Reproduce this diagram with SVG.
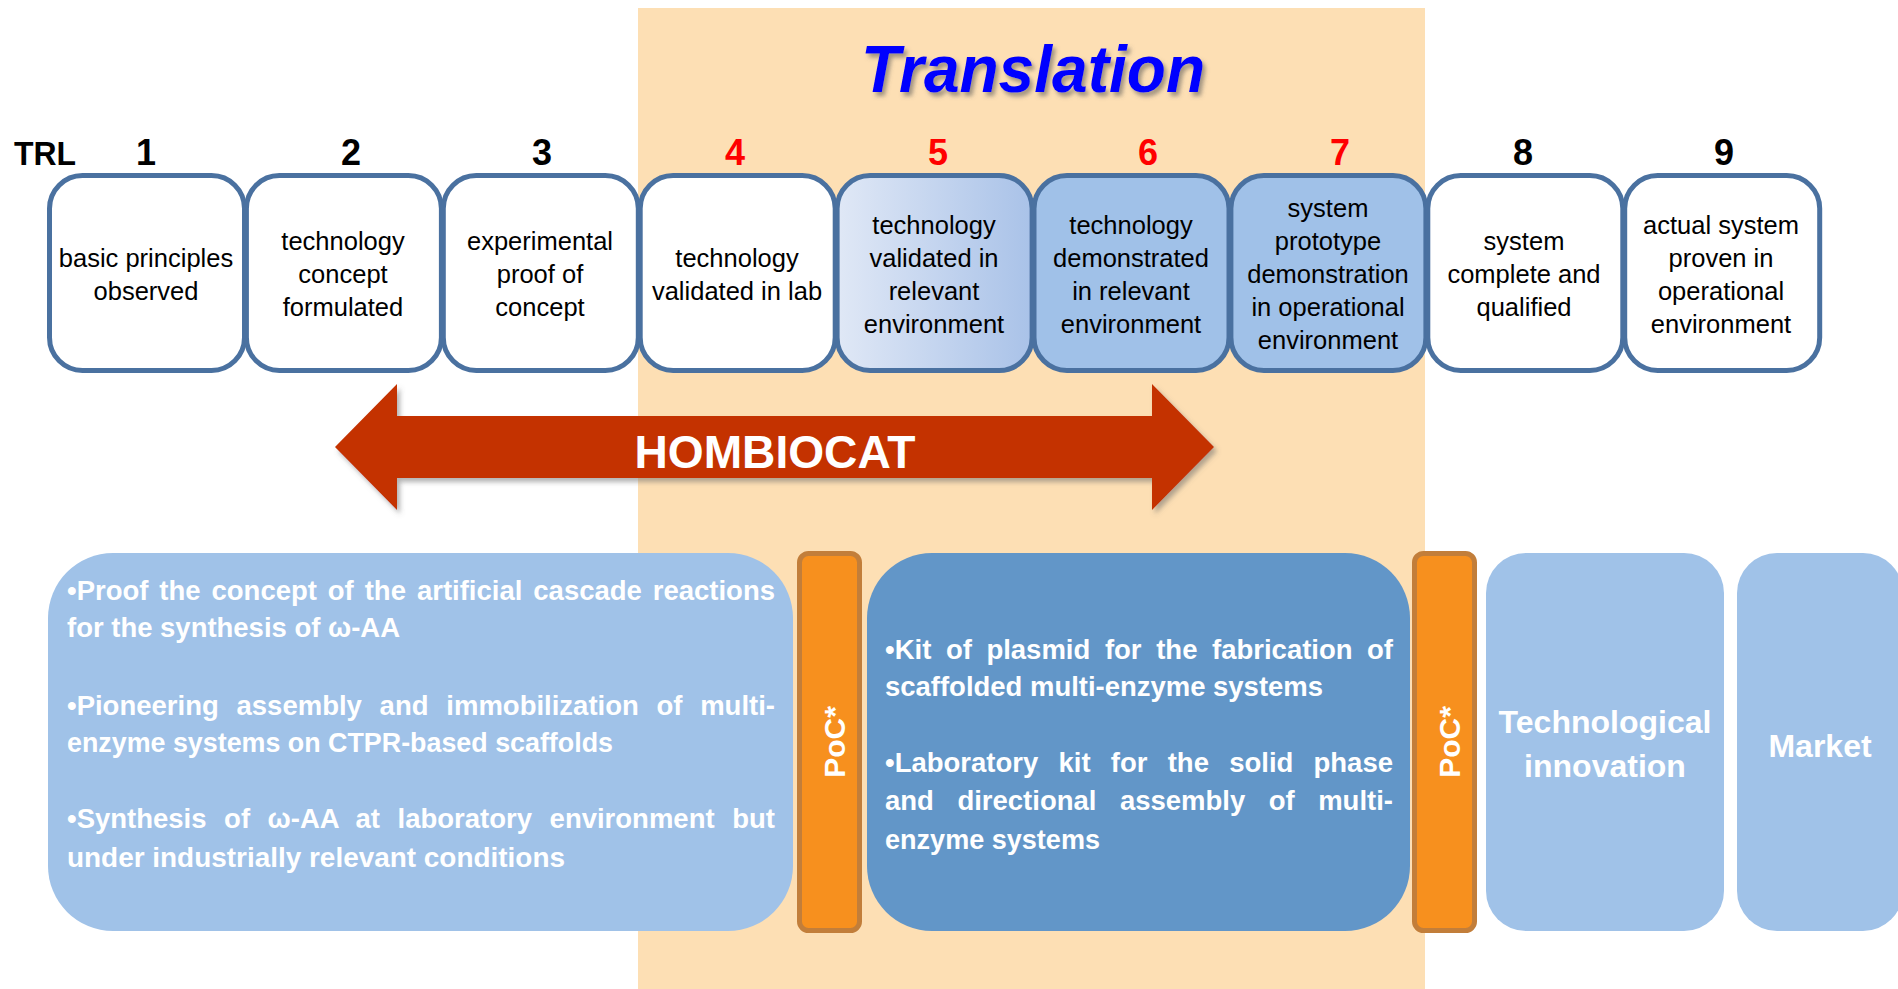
<svg xmlns="http://www.w3.org/2000/svg" width="1898" height="989" viewBox="0 0 1898 989">
<defs>
<linearGradient id="g5" x1="0" y1="0" x2="1" y2="0">
<stop offset="0" stop-color="#e0e8f6"/>
<stop offset="1" stop-color="#a9c2e8"/>
</linearGradient>
<filter id="tshadow" x="-10%" y="-20%" width="120%" height="150%">
<feDropShadow dx="3" dy="4" stdDeviation="2" flood-color="#555" flood-opacity="0.55"/>
</filter>
<filter id="ashadow" x="-5%" y="-10%" width="110%" height="130%">
<feDropShadow dx="3" dy="4" stdDeviation="2.5" flood-color="#666" flood-opacity="0.5"/>
</filter>
</defs>
<style>
.trl{fill:#fff;stroke:#4a71a0;stroke-width:5}
.num{font-family:"Liberation Sans",Arial,sans-serif;font-weight:bold;font-size:36px;text-anchor:middle;fill:#000}
.red{fill:#ff0000}
.bt{font-family:"Liberation Sans",Arial,sans-serif;font-size:25.5px;text-anchor:middle;fill:#000}
.wt{font-family:"Liberation Sans",Arial,sans-serif;font-weight:bold;font-size:27.5px;fill:#fff}
.poc{fill:#f7901e;stroke:#c27e3a;stroke-width:5}
.poct{font-family:"Liberation Sans",Arial,sans-serif;font-weight:bold;font-size:30px;fill:#fff;text-anchor:middle}
.big{font-family:"Liberation Sans",Arial,sans-serif;font-weight:bold;font-size:32px;fill:#fff;text-anchor:middle}
</style>
<rect width="1898" height="989" fill="#fff"/>
<rect id="translation-band" x="638" y="8" width="787" height="981" fill="#fddfb4"/>
<g id="title">
<text x="1033" y="92" text-anchor="middle" font-family="Liberation Sans, Arial, sans-serif" font-weight="bold" font-style="italic" font-size="66" fill="#0000ff" textLength="344" lengthAdjust="spacingAndGlyphs" filter="url(#tshadow)">Translation</text>
</g>
<g id="trl-labels">
<text x="14" y="165" font-family="Liberation Sans, Arial, sans-serif" font-weight="bold" font-size="34" fill="#000" textLength="62" lengthAdjust="spacingAndGlyphs">TRL</text>
<text class="num" x="146" y="165">1</text>
<text class="num" x="351" y="165">2</text>
<text class="num" x="542" y="165">3</text>
<text class="num red" x="735" y="165">4</text>
<text class="num red" x="938" y="165">5</text>
<text class="num red" x="1148" y="165">6</text>
<text class="num red" x="1340" y="165">7</text>
<text class="num" x="1523" y="165">8</text>
<text class="num" x="1724" y="165">9</text>
</g>
<g id="trl1"><rect class="trl" x="49.5" y="175.5" width="195" height="195" rx="33"/>
<text class="bt" x="146" y="266.5">basic principles</text><text class="bt" x="146" y="299.5">observed</text></g>
<g id="trl2"><rect class="trl" x="246.4" y="175.5" width="195" height="195" rx="33"/>
<text class="bt" x="343" y="250">technology</text><text class="bt" x="343" y="283">concept</text><text class="bt" x="343" y="316">formulated</text></g>
<g id="trl3"><rect class="trl" x="443.3" y="175.5" width="195" height="195" rx="33"/>
<text class="bt" x="540" y="250">experimental</text><text class="bt" x="540" y="283">proof of</text><text class="bt" x="540" y="316">concept</text></g>
<g id="trl4"><rect class="trl" x="640.2" y="175.5" width="195" height="195" rx="33"/>
<text class="bt" x="737" y="266.5">technology</text><text class="bt" x="737" y="299.5">validated in lab</text></g>
<g id="trl5"><rect class="trl" x="837.1" y="175.5" width="195" height="195" rx="33" style="fill:url(#g5)"/>
<text class="bt" x="934" y="233.5">technology</text><text class="bt" x="934" y="266.5">validated in</text><text class="bt" x="934" y="299.5">relevant</text><text class="bt" x="934" y="332.5">environment</text></g>
<g id="trl6"><rect class="trl" x="1034" y="175.5" width="195" height="195" rx="33" style="fill:#a0c1e8"/>
<text class="bt" x="1131" y="233.5">technology</text><text class="bt" x="1131" y="266.5">demonstrated</text><text class="bt" x="1131" y="299.5">in relevant</text><text class="bt" x="1131" y="332.5">environment</text></g>
<g id="trl7"><rect class="trl" x="1230.9" y="175.5" width="195" height="195" rx="33" style="fill:#a0c1e8"/>
<text class="bt" x="1328" y="217">system</text><text class="bt" x="1328" y="250">prototype</text><text class="bt" x="1328" y="283">demonstration</text><text class="bt" x="1328" y="316">in operational</text><text class="bt" x="1328" y="349">environment</text></g>
<g id="trl8"><rect class="trl" x="1427.8" y="175.5" width="195" height="195" rx="33"/>
<text class="bt" x="1524" y="250">system</text><text class="bt" x="1524" y="283">complete and</text><text class="bt" x="1524" y="316">qualified</text></g>
<g id="trl9"><rect class="trl" x="1624.7" y="175.5" width="195" height="195" rx="33"/>
<text class="bt" x="1721" y="233.5">actual system</text><text class="bt" x="1721" y="266.5">proven in</text><text class="bt" x="1721" y="299.5">operational</text><text class="bt" x="1721" y="332.5">environment</text></g>
<g id="connectors">
<g id="hombiocat">
<polygon points="335,447 397,384 397,416 1152,416 1152,384 1214,447 1152,510 1152,478 397,478 397,510" fill="#c43200" filter="url(#ashadow)"/>
<text x="775" y="468" text-anchor="middle" font-family="Liberation Sans, Arial, sans-serif" font-weight="bold" font-size="46" fill="#fff" textLength="281" lengthAdjust="spacingAndGlyphs">HOMBIOCAT</text>
</g>
</g>
<g id="results-a">
<rect x="48" y="553" width="745" height="378" rx="65" fill="#a0c2e8"/>
<text class="wt" y="600"><tspan x="67">•Proof</tspan><tspan x="159.3">the</tspan><tspan x="211.5">concept</tspan><tspan x="327.8">of</tspan><tspan x="364.7">the</tspan><tspan x="416.9">artificial</tspan><tspan x="533.3">cascade</tspan><tspan x="775" text-anchor="end">reactions</tspan></text>
<text class="wt" x="67" y="637" textLength="333" lengthAdjust="spacingAndGlyphs">for the synthesis of ω-AA</text>
<text class="wt" y="715"><tspan x="67">•Pioneering</tspan><tspan x="236.5">assembly</tspan><tspan x="379.6">and</tspan><tspan x="446.3">immobilization</tspan><tspan x="656.4">of</tspan><tspan x="775" text-anchor="end">multi-</tspan></text>
<text class="wt" x="67" y="752" textLength="546" lengthAdjust="spacingAndGlyphs">enzyme systems on CTPR-based scaffolds</text>
<text class="wt" y="828"><tspan x="67">•Synthesis</tspan><tspan x="224.1">of</tspan><tspan x="267.6">ω-AA</tspan><tspan x="355.5">at</tspan><tspan x="397.5">laboratory</tspan><tspan x="549.6">environment</tspan><tspan x="775" text-anchor="end">but</tspan></text>
<text class="wt" x="67" y="867" textLength="498" lengthAdjust="spacingAndGlyphs">under industrially relevant conditions</text>
</g>
<g id="poc1">
<rect class="poc" x="799.5" y="553.5" width="60" height="377" rx="9"/>
<text class="poct" transform="translate(845,742) rotate(-90)">PoC*</text>
</g>
<g id="results-b">
<rect x="867" y="553" width="543" height="378" rx="65" fill="#6296c8"/>
<text class="wt" y="659"><tspan x="885">•Kit</tspan><tspan x="945.9">of</tspan><tspan x="986.4">plasmid</tspan><tspan x="1104.9">for</tspan><tspan x="1156.2">the</tspan><tspan x="1212">fabrication</tspan><tspan x="1393" text-anchor="end">of</tspan></text>
<text class="wt" x="885" y="696" textLength="438" lengthAdjust="spacingAndGlyphs">scaffolded multi-enzyme systems</text>
<text class="wt" y="772"><tspan x="885">•Laboratory</tspan><tspan x="1058.5">kit</tspan><tspan x="1110.8">for</tspan><tspan x="1167.7">the</tspan><tspan x="1229.2">solid</tspan><tspan x="1393" text-anchor="end">phase</tspan></text>
<text class="wt" y="810"><tspan x="885">and</tspan><tspan x="957.4">directional</tspan><tspan x="1119.9">assembly</tspan><tspan x="1268.7">of</tspan><tspan x="1393" text-anchor="end">multi-</tspan></text>
<text class="wt" x="885" y="849" textLength="215" lengthAdjust="spacingAndGlyphs">enzyme systems</text>
</g>
<g id="poc2">
<rect class="poc" x="1414.5" y="553.5" width="60" height="377" rx="9"/>
<text class="poct" transform="translate(1460,742) rotate(-90)">PoC*</text>
</g>
<g id="tech-innovation">
<rect x="1486" y="553" width="238" height="378" rx="40" fill="#a0c2e8"/>
<text class="big" x="1605" y="733">Technological</text>
<text class="big" x="1605" y="777">innovation</text>
</g>
<g id="market">
<rect x="1737" y="553" width="166" height="378" rx="40" fill="#a0c2e8"/>
<text class="big" x="1820" y="757">Market</text>
</g>
</svg>
